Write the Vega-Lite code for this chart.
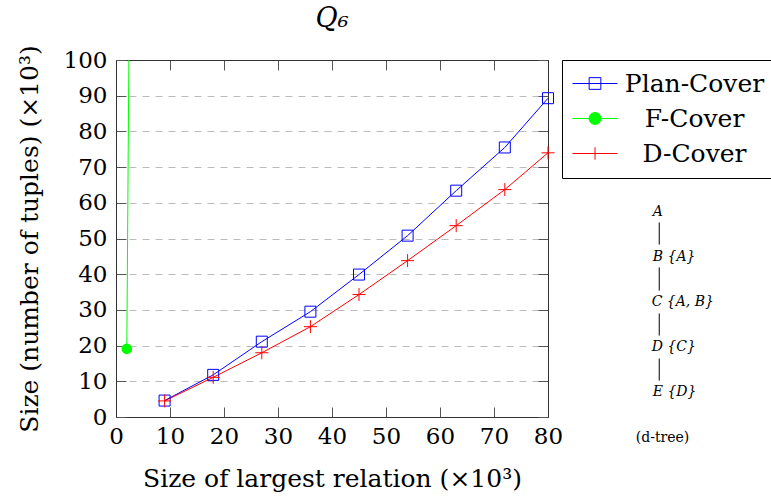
{
  "$schema": "https://vega.github.io/schema/vega-lite/v6.json",
  "width": 432,
  "height": 357,
  "autosize": {"type": "none"},
  "padding": {"left": 116, "top": 60, "right": 223, "bottom": 83},
  "background": "white",
  "title": {"text": "Q₆", "font": "DejaVu Serif", "fontStyle": "italic", "fontWeight": "normal", "fontSize": 27, "color": "black", "anchor": "middle", "offset": 12},
  "config": {
    "view": {"stroke": "#444", "strokeWidth": 1},
    "font": "DejaVu Serif",
    "axis": {
      "labelFont": "DejaVu Serif", "labelFontSize": 23, "labelColor": "black", "labelFlush": false, "labelOverlap": false,
      "titleFont": "DejaVu Serif", "titleFontSize": 25, "titleFontWeight": "normal", "titleColor": "black",
      "domainColor": "#333", "tickColor": "#555", "tickSize": -10, "tickWidth": 1
    }
  },
  "datasets": {
    "series": [
      {"series": "Plan-Cover", "x": 9, "y": 4.6},
      {"series": "Plan-Cover", "x": 18, "y": 11.8},
      {"series": "Plan-Cover", "x": 27, "y": 21.1},
      {"series": "Plan-Cover", "x": 36, "y": 29.5},
      {"series": "Plan-Cover", "x": 45, "y": 39.9},
      {"series": "Plan-Cover", "x": 54, "y": 50.8},
      {"series": "Plan-Cover", "x": 63, "y": 63.4},
      {"series": "Plan-Cover", "x": 72, "y": 75.5},
      {"series": "Plan-Cover", "x": 80, "y": 89.3},
      {"series": "F-Cover", "x": 2, "y": 19.1},
      {"series": "F-Cover", "x": 3, "y": 230},
      {"series": "D-Cover", "x": 9, "y": 4.5},
      {"series": "D-Cover", "x": 18, "y": 11.1},
      {"series": "D-Cover", "x": 27, "y": 18.0},
      {"series": "D-Cover", "x": 36, "y": 25.3},
      {"series": "D-Cover", "x": 45, "y": 34.3},
      {"series": "D-Cover", "x": 54, "y": 43.8},
      {"series": "D-Cover", "x": 63, "y": 53.6},
      {"series": "D-Cover", "x": 72, "y": 63.7},
      {"series": "D-Cover", "x": 80, "y": 74.0}
    ],
    "tree": [
      {"label": "A", "tx": 99.4, "ty": 57.3},
      {"label": "B {A}", "tx": 99.4, "ty": 44.9},
      {"label": "C {A, B}", "tx": 99.2, "ty": 32.3},
      {"label": "D {C}", "tx": 99.2, "ty": 19.5},
      {"label": "E {D}", "tx": 99.4, "ty": 6.9}
    ],
    "edges": [
      {"ex": 100.6, "y1": 54.5, "y2": 48.3},
      {"ex": 100.6, "y1": 41.9, "y2": 35.4},
      {"ex": 100.6, "y1": 29.0, "y2": 22.8},
      {"ex": 100.6, "y1": 16.4, "y2": 10.2}
    ],
    "caption": [
      {"label": "(d-tree)", "tx": 101.2, "ty": -6.0}
    ]
  },
  "layer": [
    {
      "data": {"name": "series"},
      "mark": {"type": "line", "clip": true, "strokeWidth": 1},
      "encoding": {
        "x": {"field": "x", "type": "quantitative", "scale": {"domain": [0, 80], "nice": false, "zero": false},
              "axis": {"orient": "bottom", "values": [0, 10, 20, 30, 40, 50, 60, 70, 80], "grid": false, "labelPadding": 18, "title": "Size of largest relation (×10³)", "titlePadding": 18}},
        "y": {"field": "y", "type": "quantitative", "scale": {"domain": [0, 100], "nice": false, "zero": false},
              "axis": {"orient": "left", "values": [0, 10, 20, 30, 40, 50, 60, 70, 80, 90, 100], "grid": true, "gridColor": "#bbb", "gridDash": [7, 6], "gridWidth": 1, "labelPadding": 19, "title": "Size (number of tuples) (×10³)", "titlePadding": 21}},
        "color": {"field": "series", "type": "nominal", "scale": {"domain": ["Plan-Cover", "F-Cover", "D-Cover"], "range": ["#0000ff", "#00ff00", "#ff0000"]},
                  "legend": {
                    "orient": "none", "legendX": 446, "legendY": 0, "title": null, "padding": 11,
                    "strokeColor": "black", "fillColor": "white",
                    "labelFont": "DejaVu Serif", "labelFontSize": 25, "labelColor": "black",
                    "labelAlign": "center", "labelOffset": 87, "labelBaseline": "middle",
                    "symbolSize": 506, "symbolOffset": 9.5, "symbolStrokeWidth": 1, "rowPadding": 9,
                    "encode": {
                      "symbols": {"update": {
                        "shape": {"signal": "datum.value === 'Plan-Cover' ? 'M-2,0H2M-0.52,-0.52H0.52V0.52H-0.52Z' : datum.value === 'F-Cover' ? 'M-2,0H2M0.53,0A0.53,0.53 0 1,1 -0.53,0A0.53,0.53 0 1,1 0.53,0Z' : 'M-2,0H2M0,-0.55V0.55'"},
                        "fill": {"signal": "datum.value === 'F-Cover' ? '#00ff00' : 'transparent'"},
                        "stroke": {"signal": "datum.value === 'Plan-Cover' ? '#0000ff' : datum.value === 'F-Cover' ? '#00ff00' : '#ff0000'"},
                        "strokeWidth": {"value": 1},
                        "opacity": {"value": 1}
                      }}
                    }
                  }},
        "order": {"field": "x", "type": "quantitative"}
      }
    },
    {
      "data": {"name": "series"},
      "transform": [{"filter": "datum.series === 'Plan-Cover'"}],
      "mark": {"type": "point", "shape": "square", "size": 121, "filled": false, "stroke": "#0000ff", "strokeWidth": 1, "opacity": 1},
      "encoding": {
        "x": {"field": "x", "type": "quantitative", "scale": {"domain": [0, 80], "nice": false, "zero": false},
              "axis": {"orient": "top", "values": [0, 10, 20, 30, 40, 50, 60, 70, 80], "labels": false, "grid": false, "title": null}},
        "y": {"field": "y", "type": "quantitative", "scale": {"domain": [0, 100], "nice": false, "zero": false},
              "axis": {"orient": "right", "values": [0, 10, 20, 30, 40, 50, 60, 70, 80, 90, 100], "labels": false, "grid": false, "title": null}}
      }
    },
    {
      "data": {"name": "series"},
      "transform": [{"filter": "datum.series === 'F-Cover' && datum.y <= 100"}],
      "mark": {"type": "point", "shape": "circle", "size": 113, "filled": true, "fill": "#00ff00", "strokeWidth": 0, "opacity": 1},
      "encoding": {
        "x": {"field": "x", "type": "quantitative", "scale": {"domain": [0, 80], "nice": false, "zero": false}, "axis": null},
        "y": {"field": "y", "type": "quantitative", "scale": {"domain": [0, 100], "nice": false, "zero": false}, "axis": null}
      }
    },
    {
      "data": {"name": "series"},
      "transform": [{"filter": "datum.series === 'D-Cover'"}],
      "mark": {"type": "point", "shape": "M-1,0H1M0,-1V1", "size": 169, "filled": false, "stroke": "#ff0000", "strokeWidth": 1, "opacity": 1},
      "encoding": {
        "x": {"field": "x", "type": "quantitative", "scale": {"domain": [0, 80], "nice": false, "zero": false}, "axis": null},
        "y": {"field": "y", "type": "quantitative", "scale": {"domain": [0, 100], "nice": false, "zero": false}, "axis": null}
      }
    },
    {
      "data": {"name": "edges"},
      "mark": {"type": "rule", "clip": false, "color": "black", "strokeWidth": 1},
      "encoding": {
        "x": {"field": "ex", "type": "quantitative", "scale": {"domain": [0, 80], "nice": false, "zero": false}, "axis": null},
        "y": {"field": "y1", "type": "quantitative", "scale": {"domain": [0, 100], "nice": false, "zero": false}, "axis": null},
        "y2": {"field": "y2"}
      }
    },
    {
      "data": {"name": "tree"},
      "mark": {"type": "text", "clip": false, "align": "left", "baseline": "middle", "font": "DejaVu Serif", "fontStyle": "italic", "fontSize": 14, "color": "black"},
      "encoding": {
        "x": {"field": "tx", "type": "quantitative", "scale": {"domain": [0, 80], "nice": false, "zero": false}, "axis": null},
        "y": {"field": "ty", "type": "quantitative", "scale": {"domain": [0, 100], "nice": false, "zero": false}, "axis": null},
        "text": {"field": "label"}
      }
    },
    {
      "data": {"name": "caption"},
      "mark": {"type": "text", "clip": false, "align": "center", "baseline": "middle", "font": "DejaVu Serif", "fontSize": 14, "color": "black"},
      "encoding": {
        "x": {"field": "tx", "type": "quantitative", "scale": {"domain": [0, 80], "nice": false, "zero": false}, "axis": null},
        "y": {"field": "ty", "type": "quantitative", "scale": {"domain": [0, 100], "nice": false, "zero": false}, "axis": null},
        "text": {"field": "label"}
      }
    }
  ],
  "resolve": {"axis": {"x": "independent", "y": "independent"}}
}
